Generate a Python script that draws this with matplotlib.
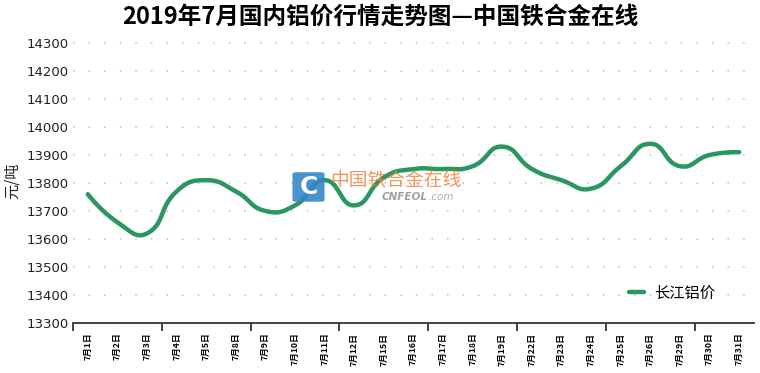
import numpy as np
import matplotlib
matplotlib.use('Agg')
import matplotlib.pyplot as plt
from matplotlib.patches import FancyBboxPatch

plt.rcParams['font.family'] = ['Noto Sans CJK SC', 'DejaVu Sans']

# data
dates = ['7月1日', '7月2日', '7月3日', '7月4日', '7月5日', '7月8日', '7月9日', '7月10日',
         '7月11日', '7月12日', '7月15日', '7月16日', '7月17日', '7月18日', '7月19日',
         '7月22日', '7月23日', '7月24日', '7月25日', '7月26日', '7月29日', '7月30日', '7月31日']
prices = [13760, 13660, 13620, 13770, 13810, 13770, 13700, 13720, 13810, 13720, 13820,
          13850, 13850, 13860, 13930, 13850, 13810, 13780, 13860, 13940, 13860, 13900, 13910]
series_name = '长江铝价'
y_ticks = [13300, 13400, 13500, 13600, 13700, 13800, 13900, 14000, 14100, 14200, 14300]

green = '#2a9660'
W, H = 760, 373

fig = plt.figure(figsize=(W / 100, H / 100), dpi=100)
ax = fig.add_axes([73 / W, 1 - 323 / H, 681 / W, 280 / H])
ax.set_xlim(-0.5, len(dates) - 0.5)
ax.set_ylim(y_ticks[0], y_ticks[-1])

# dotted horizontal grid
for v in y_ticks[1:]:
    ax.axhline(v, color='#bdbdbd', lw=1.1, ls=(0, (1, 9.2)), zorder=1, clip_on=False)

# smoothed line (echarts style bezier, smooth=0.5) built in display space
x = np.arange(len(dates))
pts = ax.transData.transform(np.column_stack([x, prices]))
n = len(pts)
cps = [pts[0]]
for i in range(1, n - 1):
    prev, p, nxt = pts[i - 1], pts[i], pts[i + 1]
    v = (nxt - prev) * 0.5
    d0 = np.hypot(*(p - prev))
    d1 = np.hypot(*(p - nxt))
    s = d0 + d1
    cps.append(p - v * d0 / s)
    cps.append(p + v * d1 / s)
cps.append(pts[-1])
curve = []
t = np.linspace(0, 1, 30)[:, None]
for i in range(n - 1):
    p0, c1, c2, p3 = pts[i], cps[2 * i], cps[2 * i + 1], pts[i + 1]
    seg = (1 - t) ** 3 * p0 + 3 * (1 - t) ** 2 * t * c1 + 3 * (1 - t) * t ** 2 * c2 + t ** 3 * p3
    curve.append(seg)
curve = ax.transData.inverted().transform(np.vstack(curve))
ax.plot(curve[:, 0], curve[:, 1], color=green, lw=3.2, solid_capstyle='round', zorder=3,
        label=series_name)

# axes styling
for side in ['left', 'right', 'top']:
    ax.spines[side].set_visible(False)
ax.spines['bottom'].set_color('#333333')
ax.spines['bottom'].set_linewidth(1.3)
ax.set_yticks(y_ticks)
ax.set_yticklabels([str(v) for v in y_ticks], family='DejaVu Sans', fontsize=9.5, color='#222222')
ax.tick_params(axis='y', length=0, pad=3)
ax.set_xticks(x)
ax.set_xticklabels(dates, rotation=90, fontsize=6.3, fontweight='bold', va='top', ha='center')
ax.tick_params(axis='x', which='major', length=0, pad=7)
ax.set_xticks(np.arange(-0.5, len(dates) - 1, 3), minor=True)
ax.tick_params(axis='x', which='minor', length=6, width=1.3, color='#333333', direction='out')

# titles
fig.text(0.5, 1 - 17 / H, '2019年7月国内铝价行情走势图—中国铁合金在线', ha='center', va='center',
         fontsize=17, fontweight='bold', color='#000000')
fig.text(12 / W, 1 - 181 / H, '元/吨', rotation=90, ha='center', va='center', fontsize=11,
         color='#222222')

# legend
ax.legend(loc='center', bbox_to_anchor=(672 / W, 1 - 293 / H), bbox_transform=fig.transFigure,
          frameon=False, fontsize=11, handlelength=1.0, handletextpad=0.7)

# watermark
fig.patches.append(FancyBboxPatch((294 / W, 1 - 201 / H), 29 / W, 28 / H,
                                  boxstyle='round,pad=0.002,rounding_size=0.005',
                                  transform=fig.transFigure, facecolor='#3586c8',
                                  edgecolor='none', alpha=0.9, zorder=5))
fig.text(308.5 / W, 1 - 187 / H, 'C', ha='center', va='center', fontsize=18, fontweight='bold',
         color='white', family='DejaVu Sans', zorder=6)
fig.text(330 / W, 1 - 180 / H, '中国铁合金在线', ha='left', va='center', fontsize=13.5,
         color='#f08240', alpha=0.85, zorder=6)
fig.text(428 / W, 1 - 197 / H, 'CNFEOL', ha='right', va='center', fontsize=7.5,
         fontweight='bold', style='italic', color='#a0a0a0', family='DejaVu Sans', zorder=6)
fig.text(428 / W, 1 - 197 / H, '.com', ha='left', va='center', fontsize=7.5,
         style='italic', color='#b0b0b0', family='DejaVu Sans', zorder=6)

fig.savefig('out.png', dpi=100)
